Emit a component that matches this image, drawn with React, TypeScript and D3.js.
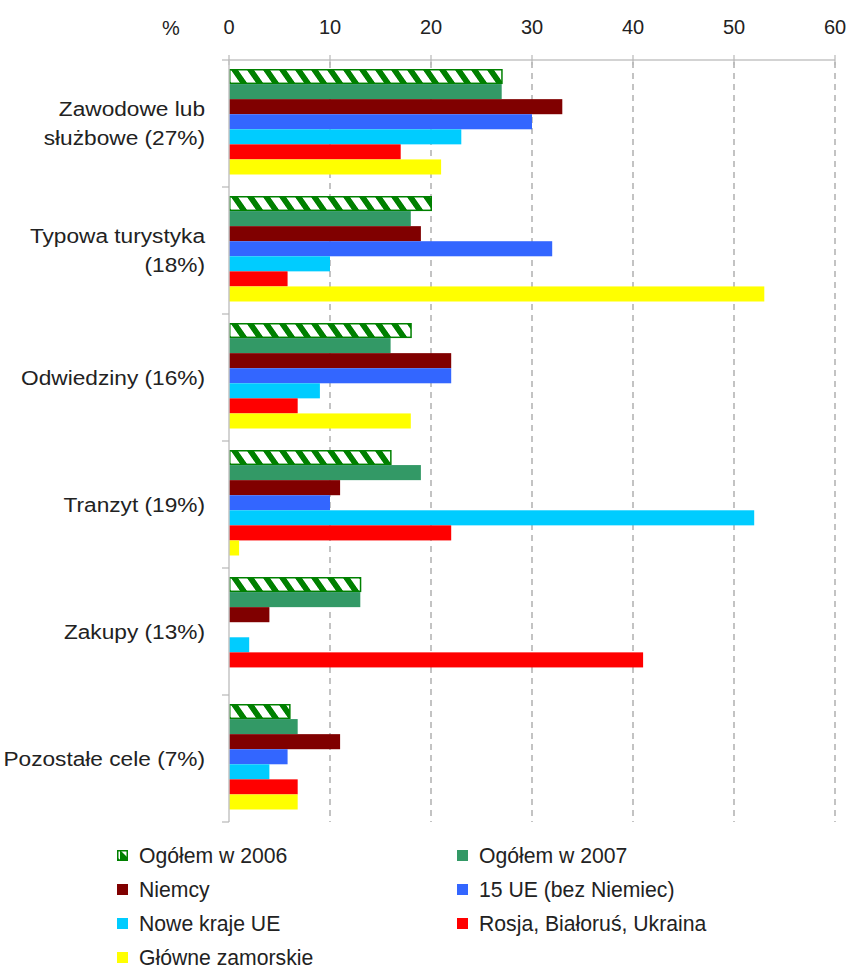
import React from "react";
import * as d3 from "d3";

const categoryLines: string[][] = [
  ["Zawodowe lub", "służbowe (27%)"],
  ["Typowa turystyka", "(18%)"],
  ["Odwiedziny (16%)"],
  ["Tranzyt (19%)"],
  ["Zakupy (13%)"],
  ["Pozostałe cele (7%)"],
];
const categoryKeys = ["zaw", "typ", "odw", "tra", "zak", "poz"];

const seriesNames = [
  "Ogółem w 2006",
  "Ogółem w 2007",
  "Niemcy",
  "15 UE (bez Niemiec)",
  "Nowe kraje UE",
  "Rosja, Białoruś, Ukraina",
  "Główne zamorskie",
];
const seriesColors = ["#008000", "#339966", "#800000", "#3366FF", "#00CCFF", "#FF0000", "#FFFF00"];

const ogolem2006 = [27, 20, 18, 16, 13, 6];
const ogolem2007 = [27, 18, 16, 19, 13, 6.8];
const niemcy = [33, 19, 22, 11, 4, 11];
const ue15 = [30, 32, 22, 10, 0, 5.8];
const noweKraje = [23, 10, 9, 52, 2, 4];
const rosja = [17, 5.8, 6.8, 22, 41, 6.8];
const zamorskie = [21, 53, 18, 1, 0, 6.8];
const seriesValues = [ogolem2006, ogolem2007, niemcy, ue15, noweKraje, rosja, zamorskie];

const xTicks = [0, 10, 20, 30, 40, 50, 60];

const FONT = "'Liberation Sans', Arial, sans-serif";
const TEXT = "#222";

export default function App() {
  const x = d3.scaleLinear().domain([0, 60]).range([229, 835]);
  const yGroup = d3.scaleBand<string>().domain(categoryKeys).range([60, 822]).padding(0);
  const yInner = d3.scaleBand<string>().domain(seriesNames).range([9, 114.5]).padding(0);
  const bw = yInner.bandwidth();
  const top = 60;
  const bottom = 822;

  const legendCols = [117, 457];
  const legendRows = [856, 890, 924, 958];

  return (
    <svg width={850} height={970} style={{ position: "absolute", left: 0, top: 0, background: "#fff" }} fontFamily={FONT}>
      <defs>
        <pattern id="hatch" patternUnits="userSpaceOnUse" width={16} height={16} patternTransform="skewX(35)">
          <rect x={0} y={0} width={16} height={16} fill="#fff" />
          <rect x={0} y={0} width={7} height={16} fill="#008000" />
        </pattern>
        <pattern id="hatchLegend" patternUnits="userSpaceOnUse" width={10} height={10}>
          <rect width={10} height={10} fill="#fff" />
          <path d="M0,0 L10,10 L0,10 Z" fill="#008000" />
        </pattern>
      </defs>
      <rect width={850} height={970} fill="#fff" />

      {/* gridlines */}
      {xTicks.filter((t) => t > 0).map((t) => (
        <line key={"g" + t} x1={x(t)} x2={x(t)} y1={top + 2} y2={bottom} stroke="#b0b0b0" strokeWidth={1.5} strokeDasharray="6,5" />
      ))}

      {/* bars */}
      {categoryKeys.map((ck, ci) => (
        <g key={ck} transform={`translate(0,${yGroup(ck)})`}>
          {seriesNames.map((sn, si) => {
            const v = seriesValues[si][ci];
            if (!v) return null;
            const y = yInner(sn)!;
            if (si === 0) {
              return (
                <rect key={sn} x={x(0) + 0.75} y={y + 0.75} width={x(v) - x(0) - 0.5} height={bw - 1.5} fill="url(#hatch)" stroke="#008000" strokeWidth={1.5} />
              );
            }
            return <rect key={sn} x={x(0)} y={y} width={x(v) - x(0)} height={bw} fill={seriesColors[si]} />;
          })}
        </g>
      ))}

      {/* top axis */}
      <line x1={x(0)} x2={x(60)} y1={top} y2={top} stroke="#c4c4c4" strokeWidth={1.5} />
      {xTicks.map((t) => (
        <g key={"t" + t}>
          <line x1={x(t)} x2={x(t)} y1={top - 5} y2={top + 5} stroke="#b8b8b8" strokeWidth={1.2} />
          <text x={x(t)} y={34} textAnchor="middle" fontSize={20} fill={TEXT}>{t}</text>
        </g>
      ))}
      <text x={171} y={35} textAnchor="middle" fontSize={20} fill={TEXT}>%</text>

      {/* left axis */}
      <line x1={x(0)} x2={x(0)} y1={top} y2={bottom} stroke="#c4c4c4" strokeWidth={1.5} />
      {categoryKeys.map((ck) => (
        <line key={"ct" + ck} x1={x(0) - 7} x2={x(0)} y1={yGroup(ck)! + yGroup.bandwidth()} y2={yGroup(ck)! + yGroup.bandwidth()} stroke="#b8b8b8" strokeWidth={1.2} />
      ))}
      <line x1={x(0) - 7} x2={x(0)} y1={top} y2={top} stroke="#b8b8b8" strokeWidth={1.2} />

      {/* category labels */}
      {categoryKeys.map((ck, ci) => {
        const lines = categoryLines[ci];
        const c = yGroup(ck)! + yGroup.bandwidth() / 2 + 7;
        const lh = 29;
        const start = c - ((lines.length - 1) * lh) / 2;
        return (
          <g key={"cl" + ck}>
            {lines.map((l, li) => (
              <text key={li} transform={`translate(205,${start + li * lh}) scale(1.08,1)`} textAnchor="end" fontSize={21} fill={TEXT}>{l}</text>
            ))}
          </g>
        );
      })}

      {/* legend */}
      {seriesNames.map((sn, si) => {
        const col = si % 2;
        const row = Math.floor(si / 2);
        const lx = legendCols[col];
        const ly = legendRows[row];
        return (
          <g key={"lg" + sn}>
            {si === 0 ? (
              <rect x={lx + 0.75} y={ly - 5.25} width={9.5} height={9.5} fill="url(#hatchLegend)" stroke="#008000" strokeWidth={1.5} />
            ) : (
              <rect x={lx} y={ly - 6} width={11} height={11} fill={seriesColors[si]} />
            )}
            <text x={lx + 22} y={ly + 7} fontSize={21.2} fill={TEXT}>{sn}</text>
          </g>
        );
      })}
    </svg>
  );
}
